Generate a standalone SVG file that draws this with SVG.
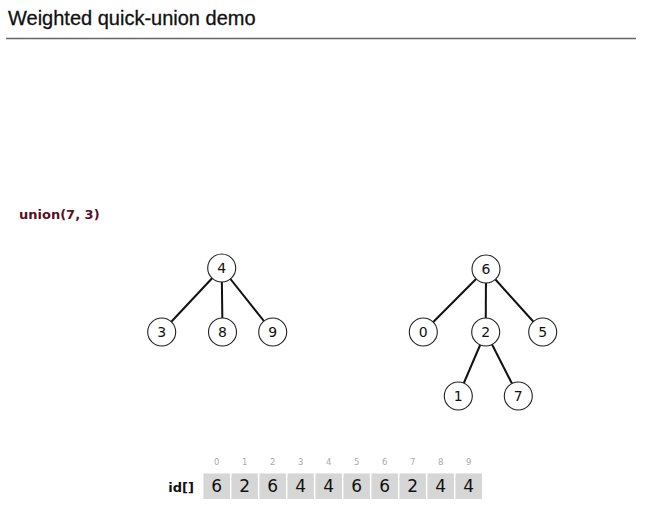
<svg xmlns="http://www.w3.org/2000/svg" width="648" height="510" viewBox="0 0 648 510">
<style>
.n circle{fill:#fff;stroke:#222;stroke-width:1.1}
.n text{font-family:"DejaVu Sans","Liberation Sans",sans-serif;font-size:14px;fill:#111;text-anchor:middle}
.e line{stroke:#111;stroke-width:2}
.cell{fill:#d6d6d6;stroke:#fff;stroke-width:1.5}
.val{font-family:"DejaVu Sans",sans-serif;font-size:17px;fill:#111;text-anchor:middle}
.idx{font-family:"DejaVu Sans",sans-serif;font-size:8.5px;fill:#aaa;text-anchor:middle}
</style>
<rect width="648" height="510" fill="#fff"/>
<text x="8" y="25" font-family="Liberation Sans, sans-serif" font-size="20" fill="#111" stroke="#111" stroke-width="0.3">Weighted quick-union demo</text>
<line x1="6" y1="38.5" x2="636" y2="38.5" stroke="#666" stroke-width="1.3"/>
<text x="19" y="219" font-family="DejaVu Sans, sans-serif" font-weight="bold" font-size="13" fill="#5a0f25">union(7, 3)</text>
<g id="edges" class="e">
<line x1="221.7" y1="268" x2="161.7" y2="332"/>
<line x1="221.7" y1="268" x2="222.5" y2="332"/>
<line x1="221.7" y1="268" x2="272.7" y2="332"/>
<line x1="486" y1="269" x2="423.3" y2="332"/>
<line x1="486" y1="269" x2="485.7" y2="332"/>
<line x1="486" y1="269" x2="542.7" y2="332"/>
<line x1="485.7" y1="332" x2="458.3" y2="396"/>
<line x1="485.7" y1="332" x2="518.3" y2="396"/>
</g>
<g id="node4" class="n"><circle cx="221.7" cy="268" r="14"/><text x="221.7" y="273">4</text></g>
<g id="node3" class="n"><circle cx="161.7" cy="332" r="14"/><text x="161.7" y="337">3</text></g>
<g id="node8" class="n"><circle cx="222.5" cy="332" r="14"/><text x="222.5" y="337">8</text></g>
<g id="node9" class="n"><circle cx="272.7" cy="332" r="14"/><text x="272.7" y="337">9</text></g>
<g id="node6" class="n"><circle cx="486" cy="269" r="14"/><text x="486" y="274">6</text></g>
<g id="node0" class="n"><circle cx="423.3" cy="332" r="14"/><text x="423.3" y="337">0</text></g>
<g id="node2" class="n"><circle cx="485.7" cy="332" r="14"/><text x="485.7" y="337">2</text></g>
<g id="node5" class="n"><circle cx="542.7" cy="332" r="14"/><text x="542.7" y="337">5</text></g>
<g id="node1" class="n"><circle cx="458.3" cy="396" r="14"/><text x="458.3" y="401">1</text></g>
<g id="node7" class="n"><circle cx="518.3" cy="396" r="14"/><text x="518.3" y="401">7</text></g>
<g id="array">
<text x="181" y="492" font-family="DejaVu Sans, sans-serif" font-weight="bold" font-size="13" fill="#111" text-anchor="middle">id[]</text>
<rect class="cell" x="202.7" y="472.7" width="28" height="27"/>
<rect class="cell" x="230.7" y="472.7" width="28" height="27"/>
<rect class="cell" x="258.7" y="472.7" width="28" height="27"/>
<rect class="cell" x="286.7" y="472.7" width="28" height="27"/>
<rect class="cell" x="314.7" y="472.7" width="28" height="27"/>
<rect class="cell" x="342.7" y="472.7" width="28" height="27"/>
<rect class="cell" x="370.7" y="472.7" width="28" height="27"/>
<rect class="cell" x="398.7" y="472.7" width="28" height="27"/>
<rect class="cell" x="426.7" y="472.7" width="28" height="27"/>
<rect class="cell" x="454.7" y="472.7" width="28" height="27"/>
<text class="idx" x="216.7" y="465">0</text>
<text class="idx" x="244.7" y="465">1</text>
<text class="idx" x="272.7" y="465">2</text>
<text class="idx" x="300.7" y="465">3</text>
<text class="idx" x="328.7" y="465">4</text>
<text class="idx" x="356.7" y="465">5</text>
<text class="idx" x="384.7" y="465">6</text>
<text class="idx" x="412.7" y="465">7</text>
<text class="idx" x="440.7" y="465">8</text>
<text class="idx" x="468.7" y="465">9</text>
<text class="val" x="216.7" y="492">6</text>
<text class="val" x="244.7" y="492">2</text>
<text class="val" x="272.7" y="492">6</text>
<text class="val" x="300.7" y="492">4</text>
<text class="val" x="328.7" y="492">4</text>
<text class="val" x="356.7" y="492">6</text>
<text class="val" x="384.7" y="492">6</text>
<text class="val" x="412.7" y="492">2</text>
<text class="val" x="440.7" y="492">4</text>
<text class="val" x="468.7" y="492">4</text>
</g>
</svg>
